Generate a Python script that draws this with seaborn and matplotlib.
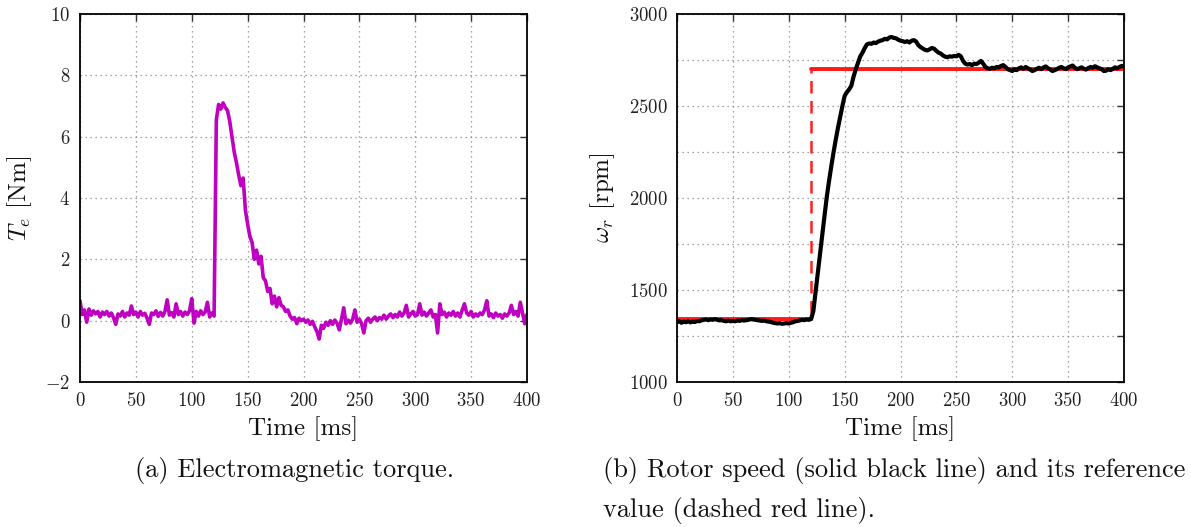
import numpy as np
import pandas as pd
import matplotlib
matplotlib.use("Agg")
import matplotlib.pyplot as plt
from matplotlib.ticker import MultipleLocator
import seaborn as sns

# Sample grid of the measurements [ms]
time_ms = list(range(0, 401, 2))

# Electromagnetic torque [Nm]
torque = [
    0.65, 0.20, 0.35, -0.05, 0.38, 0.18, 0.32, 0.22, 0.30, 0.12,
    0.28, 0.20, 0.30, 0.15, 0.25, 0.10, -0.12, 0.22, 0.15, 0.30,
    0.12, 0.25, 0.18, 0.48, 0.20, 0.28, 0.12, 0.30, 0.18, 0.24,
    0.08, -0.12, 0.25, 0.20, 0.32, 0.14, 0.27, 0.15, 0.30, 0.68,
    0.18, 0.26, 0.12, 0.55, 0.20, 0.30, 0.15, 0.28, 0.20, 0.32,
    0.72, -0.08, 0.30, 0.15, 0.32, 0.20, 0.28, 0.60, 0.12, 0.25,
    0.15, 6.55, 7.05, 6.90, 7.10, 6.95, 6.85, 6.50, 6.00, 5.50,
    5.15, 4.75, 4.40, 4.65, 3.60, 3.15, 2.75, 2.55, 2.00, 2.30,
    1.85, 2.10, 1.40, 1.30, 0.95, 1.05, 0.55, 0.80, 0.45, 0.75,
    0.50, 0.45, 0.30, 0.35, 0.15, 0.05, 0.10, -0.10, 0.08, 0.00,
    0.05, -0.05, 0.02, -0.12, -0.02, -0.20, -0.35, -0.60, -0.15, -0.25,
    -0.05, -0.15, 0.00, -0.12, 0.02, -0.08, -0.30, 0.05, 0.42, -0.10,
    0.02, -0.08, 0.05, 0.35, -0.05, 0.05, -0.10, -0.40, 0.00, 0.08,
    -0.05, 0.05, 0.12, 0.00, 0.10, 0.05, 0.18, 0.05, 0.15, 0.22,
    0.10, 0.20, 0.12, 0.28, 0.15, 0.25, 0.50, 0.12, 0.22, 0.30,
    0.15, 0.20, 0.55, 0.18, 0.28, 0.15, 0.25, 0.35, 0.12, 0.20,
    -0.40, 0.55, 0.20, 0.28, 0.12, 0.25, 0.18, 0.30, 0.15, 0.25,
    0.12, 0.35, 0.55, 0.25, 0.18, 0.30, 0.12, 0.22, 0.15, 0.25,
    0.20, 0.35, 0.65, 0.15, 0.22, 0.10, 0.25, 0.15, 0.20, 0.08,
    0.22, 0.15, 0.25, 0.50, 0.20, 0.30, 0.15, 0.60, 0.25, -0.10,
    0.20,
]

# Measured rotor speed [rpm]
speed = [
    1325, 1330, 1322, 1328, 1325, 1330, 1324, 1328, 1326, 1332,
    1330, 1335, 1338, 1340, 1336, 1340, 1338, 1342, 1338, 1335,
    1336, 1332, 1330, 1334, 1330, 1332, 1330, 1334, 1332, 1336,
    1334, 1336, 1338, 1342, 1340, 1338, 1336, 1334, 1332, 1334,
    1330, 1328, 1326, 1322, 1320, 1318, 1320, 1316, 1318, 1320,
    1318, 1322, 1325, 1330, 1332, 1335, 1338, 1336, 1340, 1338,
    1342, 1385, 1490, 1595, 1700, 1800, 1900, 2005, 2090, 2170,
    2245, 2315, 2380, 2440, 2500, 2555, 2575, 2590, 2610, 2660,
    2700, 2735, 2770, 2790, 2815, 2835, 2840, 2838, 2845, 2842,
    2850, 2855, 2858, 2865, 2862, 2872, 2875, 2870, 2868, 2860,
    2855, 2852, 2848, 2852, 2845, 2855, 2858, 2850, 2830, 2820,
    2812, 2805, 2802, 2808, 2815, 2812, 2800, 2790, 2785, 2775,
    2768, 2765, 2770, 2768, 2772, 2770, 2778, 2770, 2745, 2730,
    2725, 2728, 2722, 2730, 2728, 2735, 2745, 2730, 2712, 2705,
    2702, 2708, 2705, 2712, 2710, 2718, 2722, 2712, 2700, 2695,
    2690, 2700, 2695, 2705, 2710, 2702, 2712, 2705, 2698, 2690,
    2695, 2702, 2708, 2700, 2710, 2715, 2705, 2698, 2690, 2695,
    2700, 2708, 2712, 2705, 2700, 2710, 2715, 2720, 2708, 2700,
    2705, 2710, 2702, 2698, 2706, 2712, 2708, 2716, 2710, 2705,
    2700, 2690, 2692, 2700, 2695, 2702, 2710, 2705, 2712, 2718,
    2715,
]

# Speed reference: step command
ref_time = [0, 120, 120, 400]
ref_speed = [1340, 1340, 2700, 2700]

sns.set_theme(style="white")
plt.rcParams.update({
    "font.family": "serif",
    "font.serif": ["cmr10", "DejaVu Serif"],
    "mathtext.fontset": "cm",
    "axes.formatter.use_mathtext": True,
    "axes.unicode_minus": True,
})

fig = plt.figure(figsize=(11.91, 5.27), dpi=100)
ax1 = fig.add_axes([80 / 1191, 1 - 382 / 527, 447 / 1191, 368 / 527])
ax2 = fig.add_axes([677 / 1191, 1 - 382 / 527, 447 / 1191, 368 / 527])

df_t = pd.DataFrame({"t": time_ms, "Te": torque})
df_w = pd.DataFrame({"t": time_ms, "w": speed})
df_r = pd.DataFrame({"t": ref_time, "w": ref_speed})

sns.lineplot(data=df_t, x="t", y="Te", ax=ax1, color="#c000c0",
             linewidth=2.6, estimator=None, sort=False)

# reference: dashed step, horizontal levels drawn solid over it
sns.lineplot(data=df_r, x="t", y="w", ax=ax2, color="#ff2020",
             linewidth=1.8, estimator=None, sort=False, dashes=False,
             linestyle=(0, (5, 3)))
for lo, hi in [(0, 2), (2, 4)]:
    seg = df_r.iloc[lo:hi]
    sns.lineplot(data=seg, x="t", y="w", ax=ax2, color="#ff1a1a",
                 linewidth=2.8, estimator=None, sort=False)
sns.lineplot(data=df_w, x="t", y="w", ax=ax2, color="black",
             linewidth=3.0, estimator=None, sort=False)

for ax in (ax1, ax2):
    ax.set_xlim(0, 400)
    ax.xaxis.set_major_locator(MultipleLocator(50))
    ax.grid(True, which="both", linestyle=(0, (1, 3)), color="#888888",
            linewidth=0.9)
    ax.tick_params(which="both", direction="in", top=True, right=True,
                   length=5, width=1, color="#333333", labelsize=13.5,
                   pad=7, labelcolor="#222222")
    for s in ax.spines.values():
        s.set_color("black")
        s.set_linewidth(1.3)
    ax.set_xlabel("Time [ms]", fontsize=18, labelpad=5, color="#111111")

ax1.set_ylim(-2, 10)
ax1.yaxis.set_major_locator(MultipleLocator(2))
ax1.set_ylabel(r"$T_e$ [Nm]", fontsize=18, labelpad=8, color="#111111")

ax2.set_ylim(1000, 3000)
ax2.yaxis.set_major_locator(MultipleLocator(500))
ax2.yaxis.set_minor_locator(MultipleLocator(250))
ax2.tick_params(which="minor", length=5)
ax2.set_ylabel(r"$\omega_r$ [rpm]", fontsize=18, labelpad=8, color="#111111")

cap_size = 19
fig.text(295 / 1191, 1 - 470 / 527, "(a) Electromagnetic torque.",
         ha="center", va="center", fontsize=cap_size, color="#111111")
fig.text(603 / 1191, 1 - 470 / 527,
         "(b) Rotor speed (solid black line) and its reference",
         ha="left", va="center", fontsize=cap_size, color="#111111")
fig.text(603 / 1191, 1 - 510 / 527, "value (dashed red line).",
         ha="left", va="center", fontsize=cap_size, color="#111111")

fig.savefig("out.png", dpi=100, facecolor="white")
